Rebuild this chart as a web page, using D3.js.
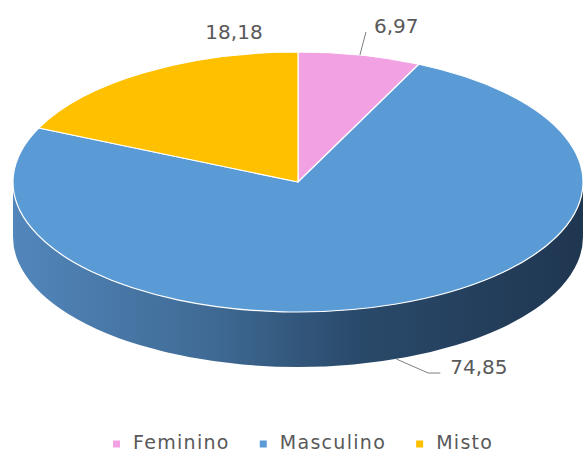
<!DOCTYPE html>
<html>
<head>
<meta charset="utf-8">
<script src="https://cdn.jsdelivr.net/npm/d3@7"></script>
<style>
  body { margin: 0; background: #fff; }
  text { font-family: "DejaVu Sans", sans-serif; fill: #595959; }
</style>
</head>
<body>
<svg id="chart" width="584" height="452"></svg>
<script>
// dados
const categories = ["Feminino", "Masculino", "Misto"];
const values = [6.97, 74.85, 18.18];
const valueLabels = ["6,97", "74,85", "18,18"];
const colors = ["#f2a2e2", "#5b9bd5", "#ffc000"];

// geometria da pizza 3D
const cx = 298, cy = 182, rx = 285, ry = 130, depth = 55;

const svg = d3.select("#chart");

const defs = svg.append("defs");
const grad = defs.append("linearGradient")
  .attr("id", "sideGrad")
  .attr("gradientUnits", "userSpaceOnUse")
  .attr("x1", cx - rx).attr("x2", cx + rx)
  .attr("y1", 0).attr("y2", 0);
grad.append("stop").attr("offset", "0%").attr("stop-color", "#5286bb");
grad.append("stop").attr("offset", "35%").attr("stop-color", "#3f6a94");
grad.append("stop").attr("offset", "60%").attr("stop-color", "#2a4a6b");
grad.append("stop").attr("offset", "100%").attr("stop-color", "#1f3650");

const pie = d3.pie().sort(null).value(d => d)(values);

// ponto na elipse (angulo a partir das 12h, sentido horario)
function pt(a, dy) {
  return [cx + rx * Math.sin(a), cy - ry * Math.cos(a) + dy];
}

// lateral (somente a metade da frente)
const side = svg.append("g");
pie.forEach((p, i) => {
  const a0 = Math.max(p.startAngle, Math.PI / 2);
  const a1 = Math.min(p.endAngle, 3 * Math.PI / 2);
  if (a1 <= a0) return;
  const t0 = pt(a0, 0), t1 = pt(a1, 0), b1 = pt(a1, depth), b0 = pt(a0, depth);
  const large = (a1 - a0) > Math.PI ? 1 : 0;
  const d = `M${t0} A${rx},${ry} 0 ${large} 1 ${t1} L${b1} A${rx},${ry} 0 ${large} 0 ${b0} Z`;
  side.append("path")
    .attr("d", d)
    .attr("fill", i === 1 ? "url(#sideGrad)" : d3.color(colors[i]).darker(1));
});

// topo
const arc = d3.arc().innerRadius(0).outerRadius(rx);
const topFace = svg.append("g")
  .attr("transform", `translate(${cx},${cy}) scale(1,${ry / rx})`);
topFace.selectAll("path")
  .data(pie)
  .join("path")
  .attr("d", arc)
  .attr("fill", (d, i) => colors[i])
  .attr("stroke", "#ffffff")
  .attr("stroke-width", 1.2)
  .attr("vector-effect", "non-scaling-stroke")
  .attr("stroke-linejoin", "round");

// rotulos
const mid = p => (p.startAngle + p.endAngle) / 2;

// Feminino
{
  const s = pt(mid(pie[0]), 0);
  const e = [s[0] + 6, s[1] - 23];
  svg.append("path").attr("d", `M${s} L${e}`)
    .attr("stroke", "#7f7f7f").attr("fill", "none").attr("stroke-width", 1);
  svg.append("text").attr("x", e[0] + 8).attr("y", e[1] + 1)
    .attr("font-size", 20).text(valueLabels[0]);
}
// Masculino
{
  const s = pt(mid(pie[1]), depth);
  const m = [s[0] + 32, s[1] + 14];
  const e = [m[0] + 12, m[1]];
  svg.append("path").attr("d", `M${s} L${m} L${e}`)
    .attr("stroke", "#7f7f7f").attr("fill", "none").attr("stroke-width", 1);
  svg.append("text").attr("x", e[0] + 10).attr("y", e[1] + 1)
    .attr("font-size", 20).text(valueLabels[1]);
}
// Misto
svg.append("text").attr("x", 234).attr("y", 39)
  .attr("text-anchor", "middle").attr("font-size", 20).text(valueLabels[2]);

// legenda
const legend = svg.append("g").attr("transform", "translate(113,449)");
let lx = 0;
categories.forEach((c, i) => {
  const g = legend.append("g").attr("transform", `translate(${lx},0)`);
  g.append("rect").attr("x", 0).attr("y", -8.5).attr("width", 7).attr("height", 7)
    .attr("fill", colors[i]);
  const t = g.append("text").attr("x", 20).attr("y", 0)
    .attr("font-size", 19).attr("letter-spacing", 1.3).text(c);
  lx += 20 + t.node().getComputedTextLength() + 30;
});
</script>
</body>
</html>
